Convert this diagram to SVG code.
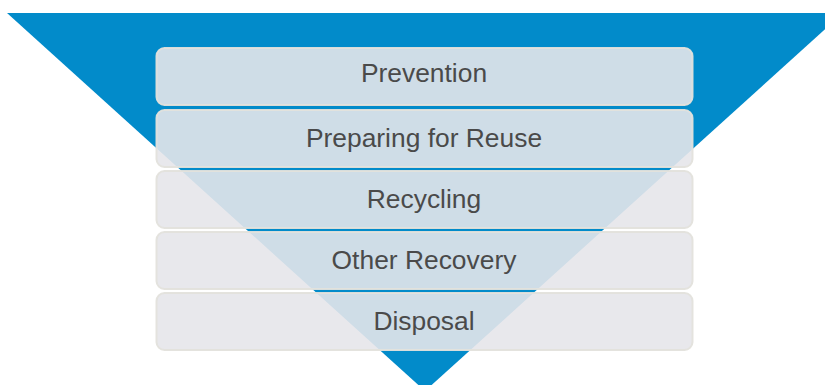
<svg xmlns="http://www.w3.org/2000/svg" width="825" height="385" viewBox="0 0 825 385">
<style>
.box{fill:#e6e6ea;fill-opacity:0.9;stroke:#e3e2dc;stroke-width:2;stroke-opacity:0.95}
.lbl{font-family:"Liberation Sans",Arial,sans-serif;font-size:26.4px;fill:#4a4a4a;text-anchor:middle}
</style>
<rect width="825" height="385" fill="#ffffff"/>
<g id="funnel"><polygon points="7,13 843,13 425,391" fill="#028bca"/></g>
<g id="prevention"><rect class="box" x="156.5" y="48" width="536" height="57" rx="8"/><text class="lbl" x="424" y="81.5">Prevention</text></g>
<g id="reuse"><rect class="box" x="156.5" y="110" width="536" height="57" rx="8"/><text class="lbl" x="424" y="147">Preparing for Reuse</text></g>
<g id="recycling"><rect class="box" x="156.5" y="171" width="536" height="57" rx="8"/><text class="lbl" x="424" y="208">Recycling</text></g>
<g id="recovery"><rect class="box" x="156.5" y="232" width="536" height="57" rx="8"/><text class="lbl" x="424" y="269">Other Recovery</text></g>
<g id="disposal"><rect class="box" x="156.5" y="293" width="536" height="57" rx="8"/><text class="lbl" x="424" y="330">Disposal</text></g>
<g id="connectors"></g>
</svg>
